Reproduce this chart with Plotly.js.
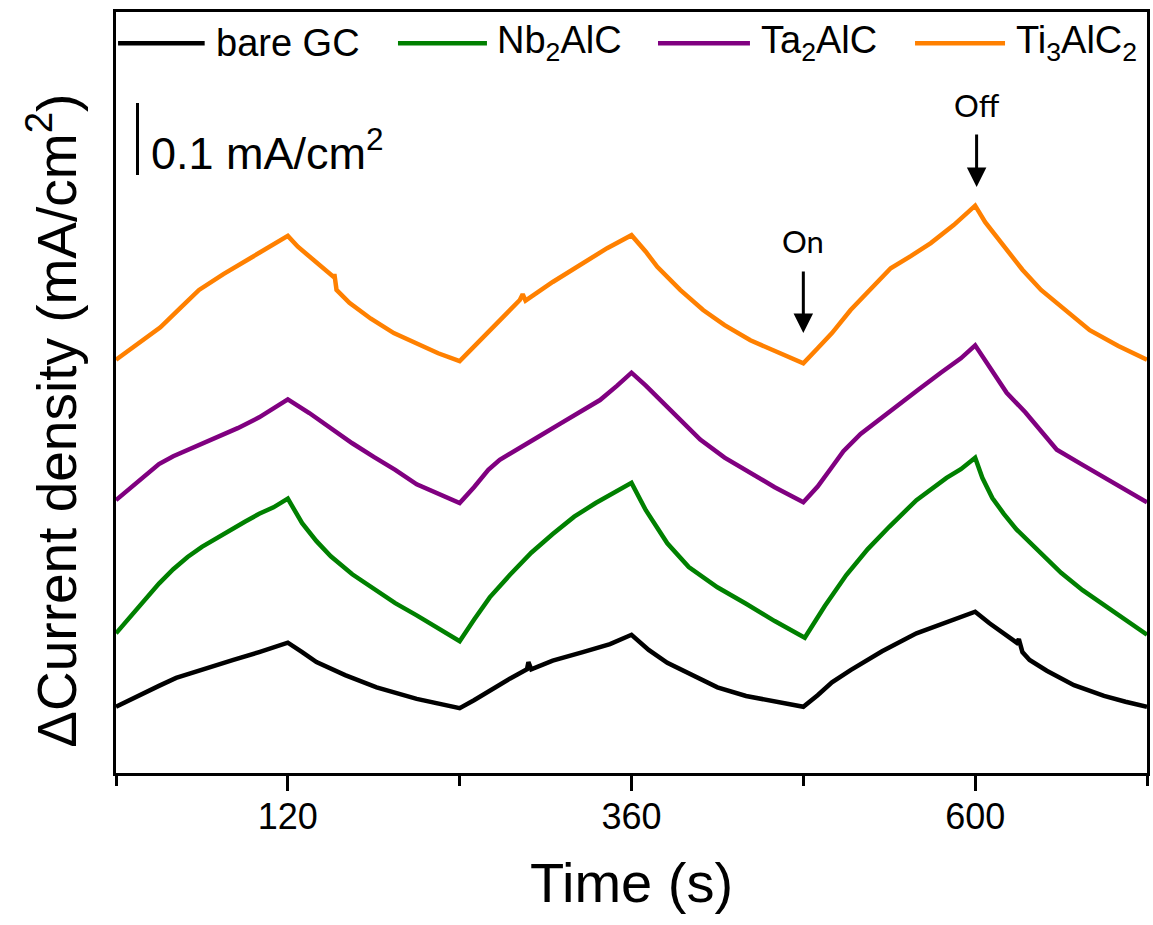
<!DOCTYPE html>
<html>
<head>
<meta charset="utf-8">
<script src="https://cdn.plot.ly/plotly-3.0.1.min.js"></script>
<style>html,body{margin:0;padding:0;background:#fff;}#chart{width:1153px;height:925px;}</style>
</head>
<body>
<div id="chart"></div>
<script>
// Time (s) and ΔCurrent density (mA/cm², curves offset for clarity)
const timeGC = [0,15,30,42,60,82,100,120, 130,140,160,182,210,240, 250,261,275,287,288,290,305,326,345,360, 372,385,400,420,440,460,480, 490,500,513,535,559,580,600, 610,620,629,630.5,633,638,650,669,690,705,720];
const bareGC = [0.092,0.107,0.121,0.132,0.144,0.157,0.168,0.181, 0.168,0.154,0.136,0.119,0.103,0.090, 0.101,0.115,0.131,0.144,0.154,0.144,0.156,0.168,0.179,0.192, 0.171,0.153,0.139,0.119,0.107,0.099,0.092, 0.108,0.126,0.143,0.169,0.194,0.210,0.224, 0.208,0.193,0.181,0.186,0.168,0.157,0.142,0.122,0.107,0.099,0.092];

const timeNb = [0,10,20,30,40,50,60,70,80,90,100,110,120, 130,140,150,165,180,195,210,225,240, 250,261,275,290,305,320,335,350,360, 370,385,400,420,440,460,481, 495,510,525,540,559,580,590,600, 605,612,620,629,645,660,675,690,705,720];
const nb2alc = [0.194,0.217,0.240,0.263,0.283,0.300,0.314,0.326,0.338,0.349,0.360,0.369,0.381, 0.347,0.322,0.301,0.276,0.256,0.236,0.219,0.201,0.183, 0.213,0.244,0.275,0.306,0.332,0.356,0.375,0.392,0.403, 0.365,0.319,0.286,0.258,0.235,0.211,0.188, 0.232,0.275,0.311,0.342,0.379,0.410,0.422,0.438, 0.410,0.382,0.360,0.338,0.306,0.278,0.254,0.233,0.213,0.192];

const timeTa = [0,10,20,30,40,55,70,85,100,110,120, 135,150,165,180,195,210,225,240, 250,260,268,280,295,310,325,338,350,360, 370,378,390,408,425,443,460,480, 490,500,508,520,541,560,576,590,600, 610,622,635,657,675,690,705,720];
const ta2alc = [0.379,0.396,0.414,0.429,0.440,0.453,0.465,0.479,0.494,0.506,0.519, 0.500,0.479,0.458,0.439,0.421,0.401,0.388,0.375, 0.397,0.421,0.435,0.450,0.467,0.485,0.503,0.518,0.538,0.556, 0.538,0.522,0.500,0.463,0.438,0.417,0.397,0.376, 0.398,0.425,0.447,0.471,0.504,0.532,0.556,0.576,0.594, 0.563,0.528,0.501,0.449,0.428,0.411,0.393,0.376];

const timeTi = [0,15,31,45,58,75,89,105,120, 127,135,145,152,152.5,154,163,178,194,210,225,240, 250,261,272,282,284,286,305,326,343,360, 370,378,394,410,425,443,460,480, 490,500,513,528,541,555,569,585,600, 607,620,633,646,663,680,700,720];
const ti3alc2 = [0.574,0.596,0.619,0.646,0.671,0.693,0.710,0.728,0.746, 0.731,0.717,0.700,0.689,0.693,0.671,0.653,0.631,0.611,0.596,0.583,0.572, 0.592,0.615,0.638,0.657,0.665,0.656,0.682,0.708,0.729,0.747, 0.724,0.703,0.671,0.643,0.622,0.601,0.586,0.569, 0.590,0.611,0.643,0.675,0.701,0.718,0.736,0.761,0.788, 0.765,0.731,0.699,0.671,0.642,0.615,0.593,0.574];

const seriesNames = ['bare GC', 'Nb<sub>2</sub>AlC', 'Ta<sub>2</sub>AlC', 'Ti<sub>3</sub>AlC<sub>2</sub>'];
const seriesColors = ['#000000', '#008000', '#800080', '#ff8000'];
const allTickVals = [0, 120, 240, 360, 480, 600, 720];
const allTickText = ['', '120', '', '360', '', '600', ''];
const majorTickVals = [120, 360, 600];
const scaleBar = 0.1; // mA/cm²

const xs = [timeGC, timeNb, timeTa, timeTi];
const ys = [bareGC, nb2alc, ta2alc, ti3alc2];

const traces = xs.map((x, i) => ({
  x: x, y: ys[i], type: 'scatter', mode: 'lines', name: seriesNames[i],
  line: {color: seriesColors[i], width: 4.5}, showlegend: false
}));
// empty trace so the secondary (long major-tick) x axis is drawn
traces.push({x: [], y: [], xaxis: 'x2', yaxis: 'y', type: 'scatter', mode: 'lines', showlegend: false, hoverinfo: 'skip'});

const FONT = 'Liberation Sans, Arial, sans-serif';

// legend drawn manually (long line samples)
const legX = [[0.002, 0.086], [0.2735, 0.3598], [0.5257, 0.6149], [0.775, 0.8623]];
const legTextX = [0.095, 0.368, 0.624, 0.871];
const legY = 0.959;
const shapes = [];
const annotations = [];
legX.forEach((p, i) => {
  shapes.push({type: 'line', xref: 'paper', yref: 'paper', x0: p[0], x1: p[1], y0: legY, y1: legY,
    line: {color: seriesColors[i], width: 4.5}});
  annotations.push({xref: 'paper', yref: 'paper', x: legTextX[i], y: legY, xanchor: 'left', yanchor: 'middle',
    text: seriesNames[i], showarrow: false, font: {family: FONT, size: 38, color: '#000'}});
});

// scale bar
const sbBase = 0.8306;
shapes.push({type: 'line', xref: 'x', yref: 'y', x0: 15, x1: 15, y0: sbBase, y1: sbBase + scaleBar,
  line: {color: '#000', width: 3}});
annotations.push({xref: 'x', yref: 'y', x: 23, y: 0.865, xanchor: 'left', yanchor: 'middle',
  text: '0.1 mA/cm<sup>2</sup>', showarrow: false, font: {family: FONT, size: 45, color: '#000'}});

// On / Off arrows
annotations.push({xref: 'x', yref: 'y', x: 601, y: 0.814, ax: 0, ay: -54, text: '', showarrow: true,
  arrowhead: 2, arrowsize: 1.3, arrowwidth: 3, arrowcolor: '#000'});
annotations.push({xref: 'x', yref: 'y', x: 480, y: 0.611, ax: 0, ay: -63, text: '', showarrow: true,
  arrowhead: 2, arrowsize: 1.3, arrowwidth: 3, arrowcolor: '#000'});
annotations.push({xref: 'x', yref: 'y', x: 601, y: 0.928, text: 'Off', showarrow: false,
  xanchor: 'center', yanchor: 'middle', font: {family: 'Lato, Open Sans, sans-serif', size: 31, color: '#000'}});
annotations.push({xref: 'x', yref: 'y', x: 480, y: 0.739, text: 'On', showarrow: false,
  xanchor: 'center', yanchor: 'middle', font: {family: 'Lato, Open Sans, sans-serif', size: 31, color: '#000'}});

// y-axis title as rotated annotation
annotations.push({xref: 'paper', yref: 'paper', x: -0.062, y: 0.463, xanchor: 'center', yanchor: 'middle',
  textangle: -90, text: 'ΔCurrent density (mA/cm<sup>2</sup>)', showarrow: false,
  font: {family: FONT, size: 55, color: '#000'}});

const layout = {
  width: 1153, height: 925,
  margin: {l: 116, r: 6, t: 12, b: 152},
  paper_bgcolor: '#fff', plot_bgcolor: '#fff',
  showlegend: false,
  font: {family: FONT, color: '#000'},
  xaxis: {
    range: [0, 720], tickmode: 'array', tickvals: allTickVals, ticktext: allTickText,
    ticks: 'outside', ticklen: 10, tickwidth: 3, tickcolor: '#000',
    showline: true, linewidth: 3, linecolor: '#000', mirror: true,
    showgrid: false, zeroline: false,
    tickfont: {family: FONT, size: 36, color: '#000'},
    title: {text: 'Time (s)', font: {family: FONT, size: 56, color: '#000'}, standoff: 27}
  },
  xaxis2: {
    overlaying: 'x', anchor: 'y', side: 'bottom', range: [0, 720],
    tickmode: 'array', tickvals: majorTickVals, ticks: 'outside', ticklen: 17, tickwidth: 3, tickcolor: '#000',
    showticklabels: false, showline: false, showgrid: false, zeroline: false
  },
  yaxis: {
    range: [0, 1.057], showticklabels: false, ticks: '',
    showline: true, linewidth: 3, linecolor: '#000', mirror: true,
    showgrid: false, zeroline: false
  },
  shapes: shapes,
  annotations: annotations
};

Plotly.newPlot('chart', traces, layout, {staticPlot: true});
</script>
</body>
</html>
